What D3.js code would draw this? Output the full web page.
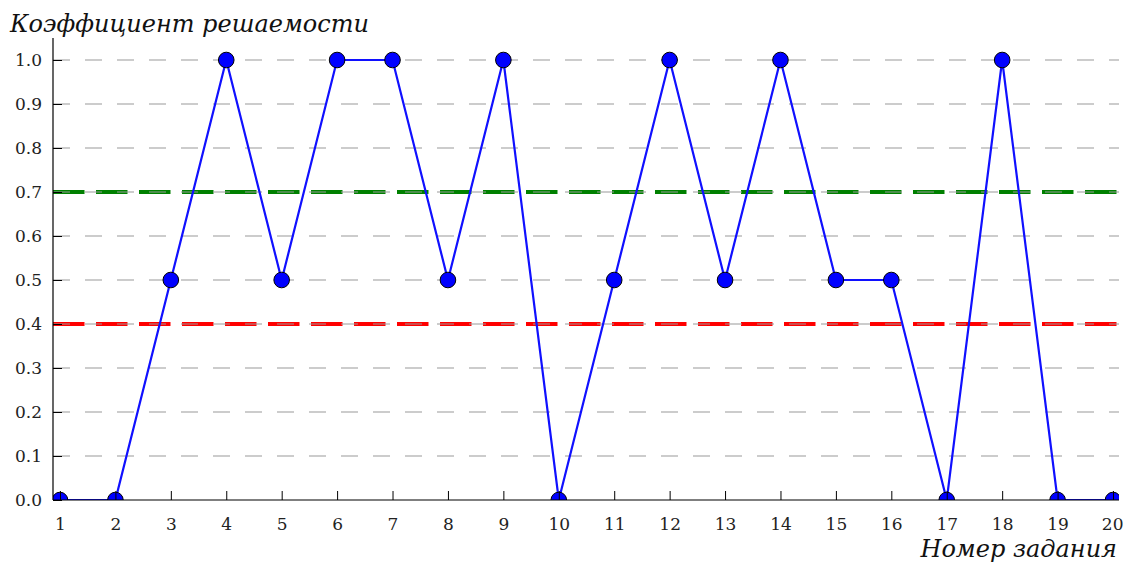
<!DOCTYPE html>
<html><head><meta charset="utf-8">
<script src="https://cdn.jsdelivr.net/npm/d3@7"></script>
<style>body{margin:0;background:#fff}svg{display:block}</style>
</head><body>
<script>
const tasks = [1,2,3,4,5,6,7,8,9,10,11,12,13,14,15,16,17,18,19,20];
const values = [0,0,0.5,1,0.5,1,1,0.5,1,0,0.5,1,0.5,1,0.5,0.5,0,1,0,0];
const yTicks = [0,0.1,0.2,0.3,0.4,0.5,0.6,0.7,0.8,0.9,1.0];
const thresholds = [{v:0.7,c:"#008000"},{v:0.4,c:"#ff0000"}];
const yTitle = "Коэффициент решаемости";
const xTitle = "Номер задания";

const W=1123,H=562;
const svg=d3.select("body").append("svg").attr("width",W).attr("height",H);
const L=53,R=1119,T=38,B=500;
const x=d3.scaleLinear().domain([0.874,20.108]).range([L,R]);
const y=d3.scaleLinear().domain([0,1.05]).range([B,T]);
const font="DejaVu Serif";

svg.append("defs").append("clipPath").attr("id","clip").append("rect")
  .attr("x",L).attr("y",T-20).attr("width",R-L).attr("height",B-T+20);

const g=svg.append("g").attr("clip-path","url(#clip)");
// threshold lines
g.selectAll(".thr").data(thresholds).join("line")
  .attr("x1",L).attr("x2",R).attr("y1",d=>y(d.v)).attr("y2",d=>y(d.v))
  .attr("stroke",d=>d.c).attr("stroke-width",4).attr("stroke-dasharray","31.5,11.5");
// grid
g.selectAll(".grid").data(yTicks.filter(d=>d>0)).join("line")
  .attr("x1",L).attr("x2",R).attr("y1",d=>y(d)).attr("y2",d=>y(d))
  .attr("stroke","#999").attr("stroke-width",1.1).attr("stroke-dasharray","17,15");
// line
g.append("path").datum(tasks.map((t,i)=>[t,values[i]]))
  .attr("d",d3.line().x(d=>x(d[0])).y(d=>y(d[1])))
  .attr("fill","none").attr("stroke","#1010ff").attr("stroke-width",2.2);
g.selectAll(".pt").data(tasks.map((t,i)=>[t,values[i]])).join("circle")
  .attr("cx",d=>x(d[0])).attr("cy",d=>y(d[1])).attr("r",7.8)
  .attr("fill","#0000ff").attr("stroke","#000").attr("stroke-width",1);

// axes
const yAx=d3.axisLeft(y).tickValues(yTicks).tickFormat(d3.format(".1f")).tickSizeInner(-9).tickSizeOuter(0).tickPadding(11);
const xAx=d3.axisBottom(x).tickValues(tasks).tickFormat(d3.format("d")).tickSizeInner(-9).tickSizeOuter(0).tickPadding(18);
const ya=svg.append("g").attr("transform",`translate(${L},0)`).call(yAx);
const xa=svg.append("g").attr("transform",`translate(0,${B})`).call(xAx);
[ya,xa].forEach(a=>{
  a.select(".domain").attr("stroke","#000").attr("stroke-width",1.2);
  a.selectAll(".tick line").attr("stroke","#000").attr("stroke-width",1);
  a.selectAll("text").attr("font-family",font).attr("font-size",17).attr("fill","#222");
});
xa.selectAll(".tick text").filter(d=>d===20).attr("text-anchor","end").attr("x",10);
xa.select(".domain").attr("d",`M${L},0H${R}`);
ya.select(".domain").attr("d",`M0,${B}V${T}`);

svg.append("text").attr("x",10).attr("y",32).text(yTitle)
  .attr("font-family",font).attr("font-style","italic").attr("font-size",24).attr("fill","#111");
svg.append("text").attr("x",1117).attr("y",557).attr("text-anchor","end").text(xTitle)
  .attr("font-family",font).attr("font-style","italic").attr("font-size",24).attr("fill","#111");
</script>
</body></html>
